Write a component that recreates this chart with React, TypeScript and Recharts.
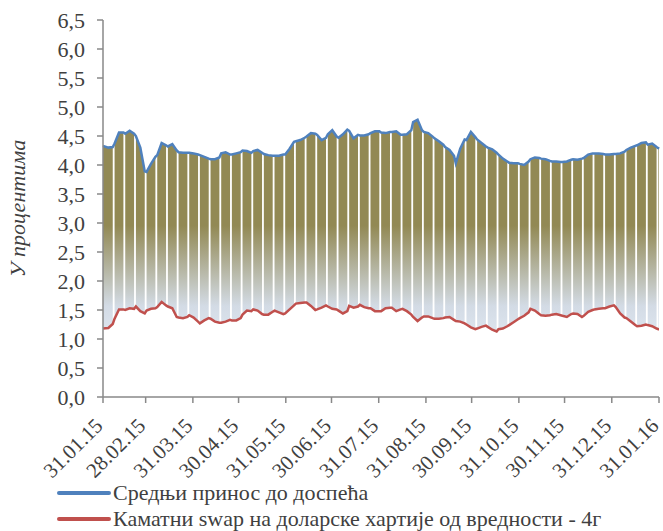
import React from 'react';
import { ComposedChart, Area, Line, XAxis, YAxis } from 'recharts';

// month-end ticks, days counted from 31.01.15
const tickDays = [0, 28, 59, 89, 120, 150, 181, 212, 242, 273, 303, 334, 365];
const tickLabels = ['31.01.15', '28.02.15', '31.03.15', '30.04.15', '31.05.15', '30.06.15', '31.07.15', '31.08.15', '30.09.15', '31.10.15', '30.11.15', '31.12.15', '31.01.16'];
const yTicks = [0, 0.5, 1, 1.5, 2, 2.5, 3, 3.5, 4, 4.5, 5, 5.5, 6, 6.5];

// three readings per week (start, middle, end), last week is short
const weekOffsets = [0.6, 3.5, 6.4];
const lastWeek = [364.6, 365];

const yieldAvg = [
  4.33, 4.30, 4.31, 4.37, 4.56, 4.56, 4.54, 4.59, 4.54, 4.50, 4.30, 3.89,
  3.88, 4.02, 4.14, 4.17, 4.38, 4.34, 4.32, 4.36, 4.25, 4.22, 4.21, 4.21,
  4.21, 4.20, 4.18, 4.17, 4.14, 4.11, 4.10, 4.10, 4.13, 4.20, 4.22, 4.18,
  4.18, 4.20, 4.22, 4.25, 4.24, 4.21, 4.24, 4.26, 4.21, 4.19, 4.17, 4.16,
  4.16, 4.16, 4.18, 4.18, 4.28, 4.40, 4.41, 4.43, 4.47, 4.49, 4.55, 4.54,
  4.52, 4.43, 4.47, 4.53, 4.60, 4.49, 4.47, 4.53, 4.61, 4.59, 4.46, 4.52,
  4.51, 4.51, 4.53, 4.55, 4.58, 4.58, 4.56, 4.55, 4.57, 4.57, 4.58, 4.52,
  4.52, 4.53, 4.60, 4.74, 4.78, 4.60, 4.57, 4.55, 4.49, 4.46, 4.41, 4.35,
  4.31, 4.26, 4.16, 4.03, 4.28, 4.44, 4.43, 4.57, 4.48, 4.44, 4.38, 4.32,
  4.30, 4.27, 4.21, 4.18, 4.11, 4.06, 4.04, 4.03, 4.03, 4.02, 4.00, 4.06,
  4.10, 4.13, 4.12, 4.11, 4.10, 4.07, 4.06, 4.06, 4.05, 4.05, 4.06, 4.09,
  4.10, 4.09, 4.11, 4.12, 4.18, 4.20, 4.20, 4.20, 4.19, 4.18, 4.18, 4.19,
  4.19, 4.20, 4.23, 4.26, 4.30, 4.33, 4.34, 4.38, 4.39, 4.35, 4.37, 4.31,
  4.29, 4.28,
];

const swapRate = [
  1.18, 1.19, 1.26, 1.35, 1.51, 1.51, 1.50, 1.53, 1.52, 1.56, 1.48, 1.44,
  1.49, 1.52, 1.53, 1.55, 1.64, 1.58, 1.56, 1.53, 1.38, 1.37, 1.36, 1.38,
  1.41, 1.37, 1.30, 1.27, 1.32, 1.36, 1.35, 1.30, 1.28, 1.28, 1.30, 1.33,
  1.32, 1.32, 1.36, 1.42, 1.49, 1.48, 1.51, 1.49, 1.43, 1.42, 1.42, 1.47,
  1.49, 1.46, 1.43, 1.44, 1.51, 1.58, 1.61, 1.62, 1.63, 1.63, 1.57, 1.50,
  1.51, 1.54, 1.58, 1.56, 1.52, 1.51, 1.49, 1.44, 1.48, 1.57, 1.54, 1.56,
  1.59, 1.55, 1.53, 1.53, 1.48, 1.48, 1.48, 1.53, 1.54, 1.54, 1.48, 1.51,
  1.52, 1.48, 1.42, 1.38, 1.31, 1.37, 1.39, 1.39, 1.36, 1.35, 1.35, 1.36,
  1.37, 1.38, 1.33, 1.31, 1.30, 1.27, 1.25, 1.20, 1.17, 1.18, 1.21, 1.23,
  1.21, 1.16, 1.13, 1.17, 1.18, 1.22, 1.24, 1.29, 1.34, 1.36, 1.40, 1.46,
  1.52, 1.49, 1.43, 1.41, 1.40, 1.41, 1.42, 1.43, 1.41, 1.40, 1.38, 1.43,
  1.44, 1.43, 1.38, 1.40, 1.47, 1.50, 1.51, 1.52, 1.53, 1.53, 1.56, 1.58,
  1.55, 1.44, 1.37, 1.36, 1.30, 1.24, 1.22, 1.23, 1.25, 1.24, 1.22, 1.18,
  1.17, 1.17,
];

const seriesNames = ['Средњи принос до доспећа', 'Каматни swap на доларске хартије од вредности - 4г'];

type Row = { day: number; hi: number | null; lo: number | null; band: [number, number] | null };

const rows: Row[] = [];
let idx = 0;
for (let k = 0; k < 52; k++) {
  weekOffsets.forEach((off, j) => {
    const day = k === 0 && j === 0 ? 0 : 7 * k + off;
    rows.push({ day, hi: yieldAvg[idx], lo: swapRate[idx], band: [swapRate[idx], yieldAvg[idx]] });
    idx++;
  });
  // weekend gap between the weekly bands
  rows.push({ day: 7 * k + 7, hi: null, lo: null, band: null });
}
lastWeek.forEach((day) => {
  rows.push({ day, hi: yieldAvg[idx], lo: swapRate[idx], band: [swapRate[idx], yieldAvg[idx]] });
  idx++;
});

const FONT = '"Liberation Serif", "Times New Roman", serif';
const TEXT = '#404040';
const AXIS = '#898989';

const XTick = (props: any) => {
  const { x, y, payload } = props;
  const label = tickLabels[tickDays.indexOf(payload.value)];
  return (
    <g transform={`translate(${x + 1},${y + 22})`}>
      <text x={0} y={0} textAnchor="end" transform="rotate(-45)" fill={TEXT} fontFamily="Liberation Serif" fontSize={21}>
        {label}
      </text>
    </g>
  );
};

const App: React.FC = () => {
  return (
    <div style={{ position: 'absolute', left: 0, top: 0, width: 663, height: 531, background: '#fff', fontFamily: FONT }}>
      <ComposedChart width={663} height={531} data={rows} margin={{ top: 20, right: 4, left: 0, bottom: 54 }}>
        <defs>
          <linearGradient id="bandFill" x1="0" y1="0" x2="0" y2="1">
            <stop offset="0%" stopColor="#928954" />
            <stop offset="50%" stopColor="#928954" />
            <stop offset="88%" stopColor="#D3DBE5" />
            <stop offset="100%" stopColor="#DCE4EE" />
          </linearGradient>
        </defs>
        <XAxis
          dataKey="day"
          type="number"
          domain={[0, 365]}
          ticks={tickDays}
          interval={0}
          height={80}
          tick={<XTick />}
          tickSize={6}
          stroke={AXIS}
          strokeWidth={1.5}
        />
        <YAxis
          domain={[0, 6.5]}
          ticks={yTicks}
          interval={0}
          width={103}
          tickSize={6}
          tickMargin={12}
          stroke={AXIS}
          strokeWidth={1.5}
          tickFormatter={(v: number) => v.toFixed(1).replace('.', ',')}
          tick={{ fill: TEXT, fontSize: 22, fontFamily: 'Liberation Serif' }}
          label={{
            value: 'У процентима',
            angle: -90,
            position: 'insideLeft',
            offset: 17,
            fontFamily: 'Liberation Serif',
            style: { textAnchor: 'middle', fill: TEXT, fontSize: 22, fontStyle: 'italic' },
          }}
        />
        <Area
          dataKey="band"
          type="linear"
          stroke="none"
          fill="url(#bandFill)"
          fillOpacity={1}
          isAnimationActive={false}
          activeDot={false}
        />
        <Line dataKey="lo" type="linear" stroke="#C0504D" strokeWidth={2.5} dot={false} connectNulls isAnimationActive={false} />
        <Line dataKey="hi" type="linear" stroke="#4F81BD" strokeWidth={2.5} dot={false} connectNulls isAnimationActive={false} />
      </ComposedChart>
      <div style={{ position: 'absolute', left: 57, top: 480, fontFamily: FONT, fontSize: 22, color: TEXT }}>
        {seriesNames.map((name, i) => (
          <div key={name} style={{ display: 'flex', alignItems: 'center', height: 26, whiteSpace: 'nowrap' }}>
            <svg width={56} height={10} style={{ flex: 'none' }}>
              <line x1={2} y1={5} x2={52} y2={5} stroke={i === 0 ? '#4F81BD' : '#C0504D'} strokeWidth={4} strokeLinecap="round" />
            </svg>
            <span>{name}</span>
          </div>
        ))}
      </div>
    </div>
  );
};

export default App;
